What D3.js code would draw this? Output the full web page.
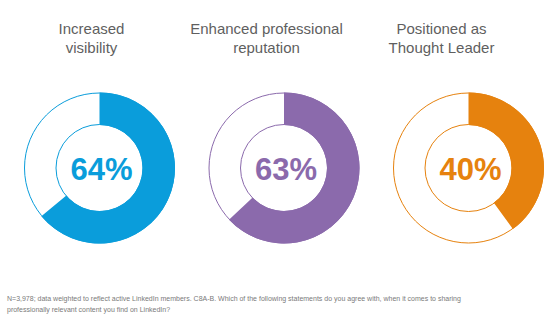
<!DOCTYPE html>
<html>
<head>
<meta charset="utf-8">
<script src="https://cdn.jsdelivr.net/npm/d3@7"></script>
<style>
  body { margin: 0; background: #fff; }
  svg { display: block; font-family: "Liberation Sans", Arial, sans-serif; }
</style>
</head>
<body>
<svg class="donuts" width="558" height="322"></svg>
<script>
const titles = [["Increased", "visibility"], ["Enhanced professional", "reputation"], ["Positioned as", "Thought Leader"]];
const values = [64, 63, 40];
const colors = ["#0a9ddb", "#8b6aac", "#e6820e"];
const note = [
    "N=3,978; data weighted to reflect active LinkedIn members. C8A-B. Which of the following statements do you agree with, when it comes to sharing",
    "professionally relevant content you find on LinkedIn?"
];

const svg = d3.select("svg.donuts");
const outerR = 75.5, innerR = 43;

// donut centres and title centres across the page
const x = d3.scaleLinear().domain([0, 2]).range([99.5, 468.5]);
const titleX = d3.scaleLinear().domain([0, 2]).range([91.5, 441.5]);

const angle = d3.scaleLinear().domain([0, 100]).range([0, 2 * Math.PI]);
const arc = d3.arc().innerRadius(innerR).outerRadius(outerR).startAngle(0);

values.forEach((v, i) => {
    const g = svg.append("g").attr("transform", `translate(${x(i)}, 168)`);

    g.append("path")
        .attr("d", arc({endAngle: angle(v)}))
        .attr("fill", colors[i]);

    [outerR - 0.5, innerR + 0.5].forEach(r => {
        g.append("circle")
            .attr("r", r)
            .attr("fill", "none")
            .attr("stroke", colors[i])
            .attr("stroke-width", 1);
    });

    g.append("text")
        .attr("x", 2)
        .attr("y", 11.5)
        .attr("text-anchor", "middle")
        .attr("font-size", 31)
        .attr("font-weight", "bold")
        .attr("fill", colors[i])
        .text(v + "%");

    svg.append("text")
        .attr("x", titleX(i))
        .attr("y", 34)
        .attr("text-anchor", "middle")
        .attr("font-size", 15)
        .attr("fill", "#5f5f5f")
        .selectAll("tspan")
        .data(titles[i])
        .join("tspan")
        .attr("x", titleX(i))
        .attr("dy", (d, j) => j ? 19 : 0)
        .text(d => d);
});

svg.append("text")
    .attr("x", 7)
    .attr("y", 301)
    .attr("font-size", 7)
    .attr("fill", "#7a7a7a")
    .selectAll("tspan")
    .data(note)
    .join("tspan")
    .attr("x", 7)
    .attr("dy", (d, j) => j ? 11 : 0)
    .text(d => d);
</script>
</body>
</html>
